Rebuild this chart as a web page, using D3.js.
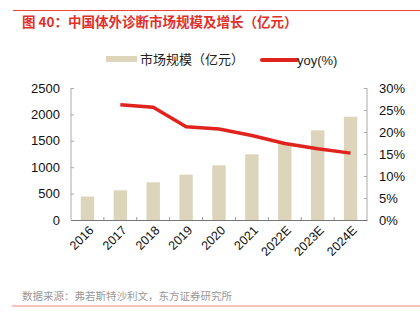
<!DOCTYPE html>
<html><head><meta charset="utf-8">
<script src="https://cdn.jsdelivr.net/npm/d3@7"></script>
<style>body{margin:0;background:#fff;}svg{display:block;font-family:"Liberation Sans",Arial,"Noto Sans CJK SC",sans-serif;}</style>
</head><body>
<script>
const categories = ["2016","2017","2018","2019","2020","2021","2022E","2023E","2024E"];
const marketSize = [445, 562, 714, 858, 1036, 1244, 1452, 1699, 1956];
const yoy = [null, 26.2, 25.6, 21.2, 20.7, 19.2, 17.4, 16.2, 15.2];
const leftTicks = [0, 500, 1000, 1500, 2000, 2500];
const rightTicks = [0, 5, 10, 15, 20, 25, 30];
const title = "图 40：中国体外诊断市场规模及增长（亿元）";
const source = "数据来源：弗若斯特沙利文，东方证券研究所";
const legendLabels = ["市场规模（亿元）", "yoy(%)"];

const W = 420, H = 323;
const svg = d3.select("body").append("svg").attr("width", W).attr("height", H);
const red = "#e0231c", beige = "#ddd4bc";

svg.append("line").attr("x1",13).attr("x2",420).attr("y1",10.5).attr("y2",10.5).attr("stroke","#e8453c").attr("stroke-width",1);
svg.append("text").attr("x",22).attr("y",27).attr("fill","#e0302a").attr("font-size",13.5).attr("font-weight","bold")
  .attr("font-family","'Noto Sans CJK SC',sans-serif").text(title);

const xb = d3.scaleBand().domain(categories).range([71, 367]);
const yL = d3.scaleLinear().domain([0, 2500]).range([220, 88]);
const yR = d3.scaleLinear().domain([0, 30]).range([220, 88]);

// legend
svg.append("rect").attr("x",106).attr("y",56).attr("width",31).attr("height",6).attr("fill",beige);
svg.append("text").attr("x",140).attr("y",63.5).attr("font-size",13).attr("fill","#222")
  .attr("font-family","'Noto Sans CJK SC',sans-serif").text(legendLabels[0]);
svg.append("line").attr("x1",262).attr("x2",297).attr("y1",60).attr("y2",60).attr("stroke",red).attr("stroke-width",4).attr("stroke-linecap","round");
svg.append("text").attr("x",297).attr("y",64.5).attr("font-size",13).attr("fill","#222").text(legendLabels[1]);

// bars
svg.append("g").selectAll("rect").data(categories).join("rect")
  .attr("x", d => xb(d) + xb.bandwidth()/2 - 6.7)
  .attr("width", 13.4)
  .attr("y", (d,i) => yL(marketSize[i]))
  .attr("height", (d,i) => yL(0) - yL(marketSize[i]))
  .attr("fill", beige);

// left axis
const gL = svg.append("g").attr("transform","translate(71,0)")
  .call(d3.axisLeft(yL).tickValues(leftTicks).tickSize(-3).tickPadding(11).tickFormat(d3.format("d")));
gL.select(".domain").attr("stroke","#aaa").attr("d","M0,88V220");
gL.selectAll(".tick line").attr("stroke","#aaa");
gL.selectAll("text").attr("font-size",13).attr("fill","#111").attr("font-family","'Liberation Sans',Arial,sans-serif");

// right axis
const gR = svg.append("g").attr("transform","translate(367,0)")
  .call(d3.axisRight(yR).tickValues(rightTicks).tickSize(-3).tickPadding(12).tickFormat(d => d + "%"));
gR.select(".domain").attr("stroke","#aaa").attr("d","M0,88V220");
gR.selectAll(".tick line").attr("stroke","#aaa");
gR.selectAll("text").attr("font-size",13).attr("fill","#111").attr("font-family","'Liberation Sans',Arial,sans-serif");

// bottom axis
const gB = svg.append("g").attr("transform","translate(0,220)")
  .call(d3.axisBottom(xb).tickSize(0).tickPadding(0));
gB.select(".domain").attr("stroke","#777").attr("stroke-width",1.2);
gB.selectAll(".tick text").attr("text-anchor","end").attr("font-size",12.5).attr("fill","#111")
  .attr("font-family","'Liberation Sans',Arial,sans-serif")
  .attr("x",0).attr("y",0).attr("dy","0.35em")
  .attr("transform","translate(4,8) rotate(-45)");
// separator ticks between categories
svg.append("g").selectAll("line").data(categories.slice(1)).join("line")
  .attr("x1", d => xb(d)).attr("x2", d => xb(d)).attr("y1",220).attr("y2",217).attr("stroke","#999");

// yoy line
const line = d3.line().defined(d => d.v != null).x(d => xb(d.c) + xb.bandwidth()/2).y(d => yR(d.v));
svg.append("path").datum(categories.map((c,i) => ({c, v: yoy[i]})))
  .attr("d", line).attr("fill","none").attr("stroke",red).attr("stroke-width",3.5).attr("stroke-linejoin","round");

// source
svg.append("text").attr("x",22).attr("y",300).attr("font-size",10.5).attr("fill","#999")
  .attr("font-family","'Noto Sans CJK SC',sans-serif").text(source);
svg.append("line").attr("x1",12).attr("x2",420).attr("y1",306).attr("y2",306).attr("stroke","#f08a80").attr("stroke-width",1.2);
</script>
</body></html>
